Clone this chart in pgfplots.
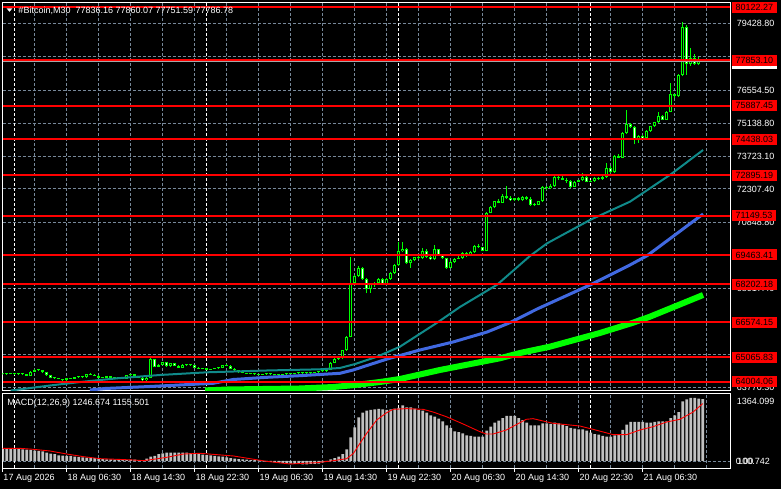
\documentclass[border=0pt]{standalone}
\usepackage{fontspec}
\setmainfont{Liberation Sans}
\usepackage{pgfplots}
\pgfplotsset{compat=1.18}
\usepackage{pgfplotstable}
\definecolor{gridc}{HTML}{778899}
\definecolor{tealc}{HTML}{108A8A}
\definecolor{bluec}{HTML}{4169E1}
\definecolor{limec}{HTML}{00FF00}
\definecolor{silverc}{HTML}{C0C0C0}
\definecolor{redc}{HTML}{FF0000}
\newcommand\lf{\fontsize{9bp}{10bp}\selectfont}

\pgfplotstableread{
i O H L C
0 64315 64380 64290 64349
1 64336 64390 64310 64358
2 64358 64390 64320 64336
3 64336 64370 64300 64336
4 64336 64360 64290 64323
5 64323 64350 64290 64315
6 64315 64340 64240 64263
7 64263 64450 64250 64435
8 64435 64530 64420 64495
9 64495 64520 64460 64487
10 64487 64500 64390 64409
11 64409 64420 64270 64280
12 64280 64300 64150 64164
13 64164 64190 64130 64151
14 64151 64170 64100 64121
15 64121 64140 64050 64065
16 64065 64170 64050 64151
17 64151 64180 64120 64142
18 64142 64220 64130 64207
19 64207 64230 64180 64207
20 64207 64240 64180 64194
21 64194 64350 64180 64323
22 64323 64360 64290 64306
23 64306 64320 64250 64263
24 64263 64280 64160 64177
25 64177 64200 64150 64177
26 64177 64250 64160 64237
27 64237 64250 64160 64177
28 64177 64190 64140 64151
29 64151 64180 64130 64151
30 64151 64170 64100 64121
31 64121 64300 64110 64280
32 64280 64350 64270 64323
33 64323 64340 64250 64263
34 64263 64270 64160 64177
35 64177 64190 64050 64065
36 64065 64190 64040 64177
37 64177 65012 64160 64969
38 64969 64990 64630 64650
39 64650 64760 64620 64736
40 64736 64860 64720 64840
41 64840 64860 64650 64667
42 64667 64810 64650 64797
43 64797 64820 64680 64693
44 64693 64710 64590 64607
45 64607 64750 64590 64736
46 64736 64760 64700 64723
47 64723 64780 64690 64711
48 64711 64720 64590 64607
49 64607 64620 64530 64551
50 64551 64600 64540 64581
51 64581 64600 64500 64521
52 64521 64570 64510 64564
53 64564 64600 64550 64581
54 64581 64630 64560 64607
55 64607 64720 64590 64711
56 64711 64760 64680 64693
57 64693 64710 64550 64564
58 64564 64580 64480 64495
59 64495 64510 64400 64409
60 64409 64420 64360 64379
61 64379 64400 64330 64349
62 64349 64380 64320 64336
63 64336 64370 64300 64323
64 64323 64350 64290 64306
65 64306 64340 64280 64315
66 64315 64350 64290 64336
67 64336 64360 64300 64315
68 64315 64340 64280 64306
69 64306 64330 64270 64290
70 64290 64330 64270 64315
71 64315 64360 64300 64349
72 64349 64380 64320 64336
73 64336 64390 64320 64379
74 64379 64410 64350 64379
75 64379 64400 64350 64370
76 64370 64410 64350 64379
77 64379 64400 64350 64390
78 64390 64430 64370 64409
79 64409 64460 64390 64450
80 64450 64480 64420 64465
81 64465 64540 64440 64521
82 64521 64840 64500 64823
83 64823 65020 64800 64995
84 64995 65081 64939 65025
85 65025 65380 64990 65369
86 65369 65960 65339 65942
87 65942 69360 65916 68240
88 68240 68600 68180 68555
89 68555 68985 68500 68899
90 68899 68950 68380 68412
91 68412 68470 67810 67982
92 67982 68260 67823 68210
93 68210 68280 68100 68253
94 68253 68460 68200 68438
95 68438 68470 68180 68210
96 68210 68470 68170 68438
97 68438 68720 68400 68696
98 68696 69060 68660 69041
99 69041 70018 68990 69618
100 69618 70018 69580 69730
101 69730 69760 69080 69101
102 69101 69280 68900 69243
103 69243 69380 69200 69360
104 69360 69420 69280 69330
105 69330 69760 69300 69618
106 69618 69700 69350 69373
107 69373 69400 69240 69274
108 69274 69889 69250 69704
109 69704 69720 69420 69446
110 69446 69520 69300 69330
111 69330 69350 68860 68899
112 68899 69180 68880 69157
113 69157 69320 69130 69299
114 69299 69400 69280 69330
115 69330 69600 69300 69558
116 69558 69580 69380 69416
117 69416 69620 69400 69575
118 69575 69900 69550 69846
119 69846 69930 69760 69790
120 69790 69820 69620 69644
121 69644 71300 69620 71280
122 71280 71560 71250 71512
123 71512 71800 71480 71771
124 71771 71880 71690 71710
125 71710 72100 71690 71999
126 71999 72416 71880 71913
127 71913 71990 71780 71814
128 71814 71930 71790 71900
129 71900 71950 71770 71826
130 71826 72010 71800 71956
131 71956 71990 71840 71870
132 71870 71940 71560 71611
133 71611 71700 71580 71624
134 71624 71800 71600 71771
135 71771 72420 71750 72386
136 72386 72450 72250 72330
137 72330 72520 72300 72442
138 72442 72850 72400 72817
139 72817 72870 72700 72761
140 72761 72900 72680 72700
141 72700 72760 72560 72644
142 72644 72690 72350 72399
143 72399 72650 72380 72614
144 72614 72700 72590 72675
145 72675 72990 72650 72817
146 72817 72840 72590 72614
147 72614 72680 72580 72644
148 72644 72800 72620 72761
149 72761 72830 72690 72731
150 72731 72860 72700 72800
151 72800 73400 72780 73217
152 73217 73300 72980 73019
153 73019 73760 72990 73708
154 73708 73790 73620 73647
155 73647 74740 73620 74711
156 74711 75701 74680 75085
157 75085 75120 74940 74969
158 74969 75000 74220 74453
159 74453 74620 74300 74582
160 74582 74640 74460 74483
161 74483 74830 74460 74797
162 74797 75030 74770 74999
163 74999 75200 74970 75171
164 75171 75600 75140 75430
165 75430 75470 75260 75283
166 75283 75660 75260 75628
167 75628 76850 75600 76377
168 76377 76410 76200 76291
169 76291 77250 76260 77208
170 77208 79476 77150 79274
171 79274 79360 77200 77668
172 77668 78370 77600 77927
173 77927 78100 77650 77668
174 77668 77980 77620 77836
175 77836.16 77860.07 77751.59 77786.78
}\candles

\pgfplotstableread[row sep=\\]{
i p\\ 2 63625\\ 11.8 63840\\ 20.1 64004\\ 28.6 64150\\ 39.3 64293\\ 51.1 64409\\
66.1 64487\\ 79.3 64538\\ 84.3 64594\\ 88.1 64766\\ 93.6 65081\\ 99.3 65511\\
108.6 66544\\ 114.3 67220\\ 123.6 68180\\ 131.8 69415\\ 136.1 69962\\ 146.8 70965\\
156.8 71753\\ 166.8 72903\\ 175.1 73979\\
}\teal

\pgfplotstableread[row sep=\\]{
i p\\ 21.8 63647\\ 25.6 63712\\ 36.8 63798\\ 52.6 63935\\ 57.6 64099\\ 66.1 64194\\
74.3 64263\\ 84.3 64366\\ 87.6 64508\\ 96.1 64981\\ 104.3 65369\\ 112.6 65714\\
121.1 66144\\ 126.8 66544\\ 133.6 67134\\ 146.8 68167\\ 156.8 69028\\ 161.1 69429\\
175.1 71224\\
}\blue

\pgfplotstableread[row sep=\\]{
i p\\ 50.6 63626\\ 56.1 63669\\ 74.3 63712\\ 82.6 63776\\ 88.1 63862\\ 94.3 63991\\
99.3 64121\\ 109.3 64508\\ 124.3 65012\\ 129.3 65240\\ 136.8 65512\\ 149.3 66101\\
157.6 66544\\ 161.8 66803\\ 175.1 67737\\
}\lime

\pgfplotstableread[row sep=\\]{
i m\\ 0 255\\ 1 255\\ 2 250\\ 3 248\\ 4 242\\ 5 235\\ 6 228\\ 7 222\\ 8 208\\ 9 205\\
10 195\\ 11 168\\ 12 150\\ 13 141\\ 14 114\\ 15 108\\ 16 101\\ 17 101\\ 18 87\\ 19 80\\
20 74\\ 21 67\\ 22 60\\ 23 60\\ 24 47\\ 25 40\\ 26 34\\ 27 34\\ 28 27\\ 29 27\\
30 20\\ 31 20\\ 32 27\\ 33 27\\ 34 20\\ 35 20\\ 36 47\\ 37 87\\ 38 101\\ 39 141\\
40 155\\ 41 168\\ 42 168\\ 43 168\\ 44 168\\ 45 168\\ 46 168\\ 47 160\\ 48 155\\ 49 141\\
50 128\\ 51 120\\ 52 114\\ 53 101\\ 54 94\\ 55 87\\ 56 74\\ 57 60\\ 58 47\\ 59 40\\
60 34\\ 61 27\\ 62 20\\ 63 20\\ 64 14\\ 65 -7\\ 66 -14\\ 67 -20\\ 68 -27\\ 69 -34\\
70 -40\\ 71 -47\\ 72 -54\\ 73 -60\\ 74 -60\\ 75 -67\\ 76 -67\\ 77 -60\\ 78 -60\\ 79 -54\\
80 -27\\ 81 0\\ 82 34\\ 83 60\\ 84 87\\ 85 141\\ 86 235\\ 87 477\\ 88 678\\ 89 880\\
90 974\\ 91 1014\\ 92 1028\\ 93 1041\\ 94 1048\\ 95 1041\\ 96 1028\\ 97 1041\\ 98 1055\\ 99 1068\\
100 1122\\ 101 1081\\ 102 1081\\ 103 1055\\ 104 1028\\ 105 1014\\ 106 974\\ 107 920\\ 108 893\\ 109 853\\
110 799\\ 111 719\\ 112 665\\ 113 598\\ 114 584\\ 115 558\\ 116 517\\ 117 504\\ 118 490\\ 119 490\\
120 490\\ 121 611\\ 122 692\\ 123 772\\ 124 813\\ 125 866\\ 126 907\\ 127 907\\ 128 907\\ 129 866\\
130 826\\ 131 772\\ 132 719\\ 133 719\\ 134 719\\ 135 759\\ 136 759\\ 137 746\\ 138 772\\ 139 759\\
140 732\\ 141 705\\ 142 665\\ 143 652\\ 144 638\\ 145 638\\ 146 611\\ 147 571\\ 148 544\\ 149 531\\
150 504\\ 151 490\\ 152 490\\ 153 517\\ 154 544\\ 155 625\\ 156 732\\ 157 786\\ 158 786\\ 159 786\\
160 786\\ 161 772\\ 162 772\\ 163 786\\ 164 799\\ 165 799\\ 166 799\\ 167 866\\ 168 920\\ 169 987\\
170 1202\\ 171 1243\\ 172 1270\\ 173 1270\\ 174 1256\\ 175 1246.674\\
}\macd

\pgfplotstableread[row sep=\\]{
i s\\ 0 255\\ 4.3 255\\ 7.7 235\\ 11.8 202\\ 16 141\\ 20.2 87\\ 24.3 47\\ 28.5 34\\
32.7 20\\ 35.2 7\\ 37.7 34\\ 41 74\\ 45.2 141\\ 49.3 155\\ 53.5 128\\ 57.7 101\\
61.8 47\\ 66 -7\\ 71.8 -60\\ 78.5 -34\\ 82.7 7\\ 86 47\\ 87.7 155\\ 89.3 356\\
91 558\\ 93.5 826\\ 96 974\\ 97.6 1041\\ 100.9 1055\\ 105.1 1041\\ 107.6 987\\
110.9 893\\ 115.1 746\\ 119.3 591\\ 120.9 544\\ 122.6 544\\ 125.9 625\\ 129.3 772\\
130.9 840\\ 132.6 853\\ 137.6 759\\ 144.3 705\\ 147.6 638\\ 152.6 531\\ 156 531\\
159.3 625\\ 162.6 692\\ 166 786\\ 169.3 840\\ 172.6 987\\ 175 1155.501\\
}\signal

\tikzset{
  grlbl/.style={text=white, anchor=west, inner sep=0pt, xshift=6.7bp, font=\lf, text height=6.4bp, text depth=0pt},
  redlbl/.style={fill=redc, text=black, anchor=west, inner xsep=3.4bp, inner ysep=0pt, minimum height=11bp, text height=6.4bp, text depth=0pt, xshift=2bp, font=\lf},
  bidlbl/.style={fill=white, text=black, anchor=west, inner xsep=3.4bp, inner ysep=0pt, minimum height=11bp, text height=6.4bp, text depth=0pt, xshift=2bp, yshift=-1.6bp, font=\lf},
}
\pgfplotsset{
  mtgrid/.style={grid style={gridc, line width=0.8bp, dash pattern=on 3bp off 2bp}},
  redline/.style={redc, line width=2.2bp, forget plot},
  mainbox/.style={at={(2.7bp,98.3bp)}, anchor=south west, scale only axis,
    width=727.3bp, height=388.7bp,
    xmin=0, xmax=181.825, ymin=63616.9, ymax=80350.4},
}

\begin{document}
\begin{tikzpicture}
\fill[black] (0bp,0bp) rectangle (781bp,489bp);
\useasboundingbox (0bp,0bp) rectangle (781bp,489bp);

% ---------------- main price panel ----------------
\begin{axis}[
  mainbox,
  axis line style={white, line width=0.9bp},
  mtgrid,
  xtick={8,16,...,176}, xticklabel=\empty, xmajorgrids,
  extra x ticks={3,51,99,147}, extra x tick labels={},
  extra x tick style={major grid style={white, line width=0.8bp, dash pattern=on 3bp off 2bp}},
  ytick={63770.3,65186,66602,68017.4,69433,70848.8,72307.4,73723.1,75138.8,76554.5,77990,79428.8},
  yticklabel=\empty, ymajorgrids,
  major tick length=0pt,
]
% wicks
\addplot[limec, line width=1bp, quiver={u=0, v=\thisrow{H}-\thisrow{L}}] table[x=i, y=L] {\candles};
% bodies
\addplot[limec, line width=3bp, quiver={u=0, v={max(abs(\thisrow{C}-\thisrow{O}),43)}}]
  table[x=i, y expr={min(\thisrow{O},\thisrow{C})}] {\candles};
\addplot[black, line width=1bp, quiver={u=0, v={(\thisrow{C}>\thisrow{O})*max(\thisrow{C}-\thisrow{O}-86,0)}}]
  table[x=i, y expr={\thisrow{O}+43}] {\candles};
\addplot[white, line width=1bp, quiver={u=0, v={(\thisrow{O}>\thisrow{C})*max(\thisrow{O}-\thisrow{C}-86,0)}}]
  table[x=i, y expr={\thisrow{C}+43}] {\candles};
% moving averages
\addplot[limec, line width=6bp, line join=round] table[x=i, y=p] {\lime};
\addplot[bluec, line width=3bp, line join=round] table[x=i, y=p] {\blue};
\addplot[tealc, line width=2bp, line join=round] table[x=i, y=p] {\teal};
% bid line
\addplot[gray!70, line width=0.9bp] coordinates {(0,77786.78) (181.825,77786.78)};
% horizontal levels
\addplot[redline] coordinates {(0,80122.27) (181.825,80122.27)};
\addplot[redline] coordinates {(0,77853.10) (181.825,77853.10)};
\addplot[redline] coordinates {(0,75887.45) (181.825,75887.45)};
\addplot[redline] coordinates {(0,74438.03) (181.825,74438.03)};
\addplot[redline] coordinates {(0,72895.19) (181.825,72895.19)};
\addplot[redline] coordinates {(0,71149.53) (181.825,71149.53)};
\addplot[redline] coordinates {(0,69463.41) (181.825,69463.41)};
\addplot[redline] coordinates {(0,68202.18) (181.825,68202.18)};
\addplot[redline] coordinates {(0,66574.15) (181.825,66574.15)};
\addplot[redline] coordinates {(0,65065.83) (181.825,65065.83)};
\addplot[redline] coordinates {(0,64004.06) (181.825,64004.06)};
\end{axis}

% ---------------- price scale labels (overlay) ----------------
\begin{axis}[mainbox, hide axis, clip=false]
\node[grlbl] at (axis cs:181.825,79428.8) {79428.80};
\node[grlbl] at (axis cs:181.825,76554.5) {76554.50};
\node[grlbl] at (axis cs:181.825,75138.8) {75138.80};
\node[grlbl] at (axis cs:181.825,73723.1) {73723.10};
\node[grlbl] at (axis cs:181.825,72307.4) {72307.40};
\node[grlbl] at (axis cs:181.825,70848.8) {70848.80};
\node[grlbl] at (axis cs:181.825,68017.4) {68017.40};
\node[grlbl] at (axis cs:181.825,63770.3) {63770.30};
\node[bidlbl] at (axis cs:181.825,77786.78) {77786.78};
\node[redlbl] at (axis cs:181.825,80122.27) {80122.27};
\node[redlbl] at (axis cs:181.825,77853.10) {77853.10};
\node[redlbl] at (axis cs:181.825,75887.45) {75887.45};
\node[redlbl] at (axis cs:181.825,74438.03) {74438.03};
\node[redlbl] at (axis cs:181.825,72895.19) {72895.19};
\node[redlbl] at (axis cs:181.825,71149.53) {71149.53};
\node[redlbl] at (axis cs:181.825,69463.41) {69463.41};
\node[redlbl] at (axis cs:181.825,68202.18) {68202.18};
\node[redlbl] at (axis cs:181.825,66574.15) {66574.15};
\node[redlbl] at (axis cs:181.825,65065.83) {65065.83};
\node[redlbl] at (axis cs:181.825,64004.06) {64004.06};
\end{axis}

% ---------------- MACD panel ----------------
\begin{axis}[
  at={(2.7bp,20.7bp)}, anchor=south west, scale only axis,
  width=727.3bp, height=75bp,
  xmin=0, xmax=181.825, ymin=-147.1, ymax=1364.1,
  axis line style={white, line width=0.9bp},
  mtgrid,
  xtick={0,16,...,160},
  xticklabels={17 Aug 2026,18 Aug 06:30,18 Aug 14:30,18 Aug 22:30,19 Aug 06:30,19 Aug 14:30,19 Aug 22:30,20 Aug 06:30,20 Aug 14:30,20 Aug 22:30,21 Aug 06:30},
  minor xtick={8,24,...,168,176},
  xmajorgrids, xminorgrids, minor grid style={gridc, line width=0.8bp, dash pattern=on 3bp off 2bp},
  extra x ticks={3,51,99,147}, extra x tick labels={},
  extra x tick style={major tick length=0pt, major grid style={white, line width=0.8bp, dash pattern=on 3bp off 2bp}},
  major tick length=3.5bp, minor tick length=0pt, tick align=outside,
  xtick pos=bottom, ytick pos=left,
  xtick style={white, line width=0.9bp},
  xticklabel style={font=\lf, text=white, anchor=north west, inner sep=0pt, xshift=0.6bp, yshift=-2.5bp},
  ytick={0}, yticklabel=\empty, ymajorgrids, ytick style={draw=none},
]
\addplot[ybar, bar width=2.8bp, bar shift=0pt, fill=silverc, draw=none] table[x=i, y=m] {\macd};
\addplot[redc, line width=0.9bp] table[x=i, y=s] {\signal};
\end{axis}

% ---------------- texts ----------------
\fill[white] (6.7bp,480.5bp) -- (12.3bp,480.5bp) -- (9.5bp,477.2bp) -- cycle;
\node[anchor=base west, inner sep=0pt, text=white, font=\lf] at (18.3bp,475.2bp)
  {\#Bitcoin,M30\ \ 77836.16 77860.07 77751.59 77786.78};
\node[anchor=base west, inner sep=0pt, text=white, font=\lf] at (7.3bp,83bp)
  {MACD(12,26,9) 1246.674 1155.501};
\node[anchor=west, inner sep=0pt, text=white, font=\lf, text height=6.4bp, text depth=0pt] at (736.7bp,88bp) {1364.099};
\node[anchor=west, inner sep=0pt, text=white, font=\lf, text height=6.4bp, text depth=0pt] at (737.2bp,27.3bp) {100.742};
\node[anchor=west, inner sep=0pt, text=white, font=\lf, text height=6.4bp, text depth=0pt] at (735.6bp,27.3bp) {0.00};
\end{tikzpicture}
\end{document}
